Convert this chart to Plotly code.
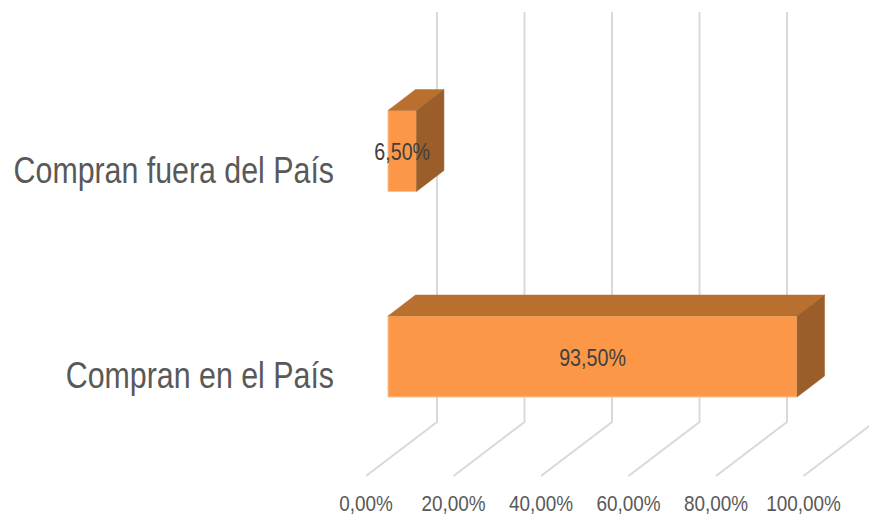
import plotly.graph_objects as go

categories = ["Compran en el País", "Compran fuera del País"]
values = [93.5, 6.5]
value_labels = ["93,50%", "6,50%"]
tick_values = [0, 20, 40, 60, 80, 100]
tick_labels = ["0,00%", "20,00%", "40,00%", "60,00%", "80,00%", "100,00%"]

FONT = "Liberation Sans, Arial, sans-serif"
W, H = 869, 515
PX_LEFT, PX_BOTTOM = 366, 480
PX_PER_UNIT = 4.375
PX_PER_CAT = 205.5
Y0_PX = 356.5

FRONT = "#FB9746"
TOP = "#B9702F"
SIDE = "#9B5E2B"
GRID = "#D9D9D9"

x_span = (W - PX_LEFT) / PX_PER_UNIT
y_range = [(Y0_PX - PX_BOTTOM) / PX_PER_CAT, Y0_PX / PX_PER_CAT]
bar_shift = 22 / PX_PER_UNIT
floor_dx, floor_dy = 71 / PX_PER_UNIT, 54 / PX_PER_CAT
floor_y = (Y0_PX - 476) / PX_PER_CAT
wall_top = (Y0_PX - 12) / PX_PER_CAT
bar_w = 81 / PX_PER_CAT
dx, dy = 27.5 / PX_PER_UNIT, 21 / PX_PER_CAT
label_drop = 19 / PX_PER_CAT
value_drop = 3 / PX_PER_CAT

fig = go.Figure()

# floor and back wall gridlines
for t in tick_values + [120]:
    fig.add_trace(go.Scatter(
        x=[t, t + floor_dx, t + floor_dx],
        y=[floor_y, floor_y + floor_dy, wall_top],
        mode="lines", line=dict(color=GRID, width=2),
        hoverinfo="skip", showlegend=False, xaxis="x", yaxis="y",
    ))

# front faces
fig.add_trace(go.Bar(
    x=values, y=list(range(len(values))), orientation="h", width=bar_w,
    marker=dict(color=FRONT, line=dict(color="#FCC195", width=1)),
    showlegend=False, xaxis="x2", yaxis="y2",
))

# top and side faces
for i, v in enumerate(values):
    lo, hi = i - bar_w / 2, i + bar_w / 2
    fig.add_trace(go.Scatter(
        x=[0, v, v + dx, dx, 0], y=[hi, hi, hi + dy, hi + dy, hi],
        mode="lines", fill="toself", fillcolor=TOP, line=dict(color=TOP, width=0.5),
        hoverinfo="skip", showlegend=False, xaxis="x2", yaxis="y2",
    ))
    fig.add_trace(go.Scatter(
        x=[v, v + dx, v + dx, v, v], y=[lo, lo + dy, hi + dy, hi, lo],
        mode="lines", fill="toself", fillcolor=SIDE, line=dict(color=SIDE, width=0.5),
        hoverinfo="skip", showlegend=False, xaxis="x2", yaxis="y2",
    ))

# data labels
fig.add_trace(go.Scatter(
    x=[v / 2 for v in values], y=[i - value_drop for i in range(len(values))],
    mode="text", text=value_labels, textposition="middle center",
    textfont=dict(family=FONT, size=24, color="#404040"),
    hoverinfo="skip", showlegend=False, xaxis="x2", yaxis="y2",
))

fig.update_layout(
    width=W, height=H,
    margin=dict(l=PX_LEFT, r=0, t=0, b=H - PX_BOTTOM, autoexpand=False),
    paper_bgcolor="white", plot_bgcolor="white",
    showlegend=False,
    xaxis=dict(
        range=[0, x_span], tickmode="array", tickvals=tick_values, ticktext=tick_labels,
        showgrid=False, zeroline=False, showline=False, ticks="", tickangle=0, automargin=False,
        tickfont=dict(family=FONT, size=22, color="#595959"), ticklabelstandoff=8,
    ),
    yaxis=dict(
        range=y_range, tickmode="array",
        tickvals=[i - label_drop for i in range(len(categories))],
        ticktext=categories, showgrid=False, zeroline=False, showline=False, ticks="", automargin=False,
        tickfont=dict(family=FONT, size=37, color="#595959"), ticklabelstandoff=31,
    ),
    xaxis2=dict(
        range=[-bar_shift, x_span - bar_shift], overlaying="x", anchor="y2",
        visible=False,
    ),
    yaxis2=dict(range=y_range, overlaying="y", anchor="x2", visible=False),
)

# The reference's text is horizontally compressed; no narrow face is installed,
# so the real text elements are fitted to a narrower length. The page margin is
# also removed so the figure fills the window exactly.
narrow = """
document.body.style.margin = '0';
document.body.style.overflow = 'hidden';
var gd = document.querySelector('.plotly-graph-div');
gd.querySelectorAll('.ytick text, .textpoint text').forEach(function (t) {
  t.setAttribute('textLength', (t.getComputedTextLength() * 0.82).toFixed(1));
  t.setAttribute('lengthAdjust', 'spacingAndGlyphs');
});
gd.querySelectorAll('.xtick text').forEach(function (t) {
  t.setAttribute('textLength', (t.getComputedTextLength() * 0.86).toFixed(1));
  t.setAttribute('lengthAdjust', 'spacingAndGlyphs');
});
"""

fig.write_html("out.html", post_script=narrow, config={"displayModeBar": False})
